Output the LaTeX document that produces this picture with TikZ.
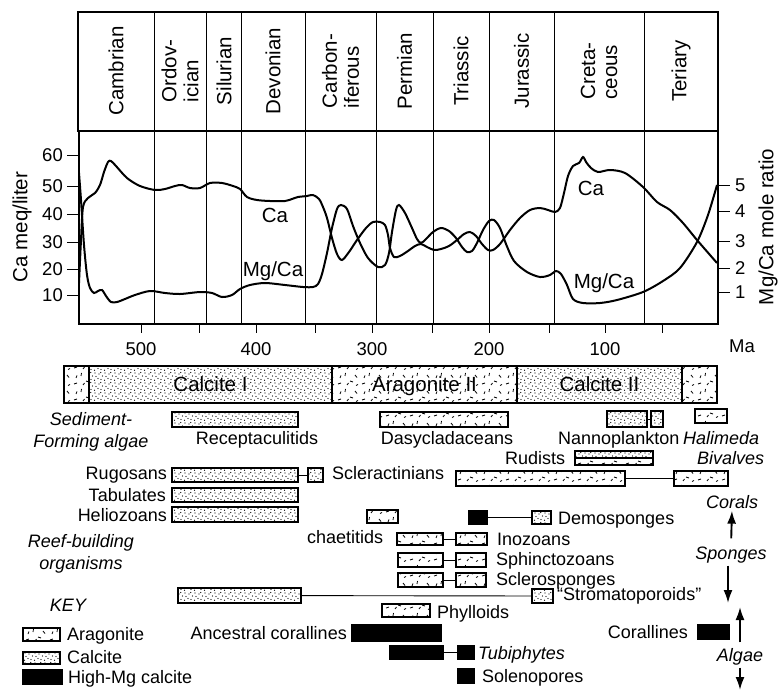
\documentclass[tikz,border=0pt]{standalone}
\usepackage{fontspec}
\setmainfont{Liberation Sans}
\usepackage{tikz}
\usetikzlibrary{patterns,arrows.meta}
\tikzset{>={Latex[length=13pt,width=9pt]}}

\pgfdeclarepatternformonly{calcite}{\pgfqpoint{-1pt}{-1pt}}{\pgfqpoint{11pt}{11pt}}{\pgfqpoint{10pt}{10pt}}{%
  \pgfpathcircle{\pgfqpoint{1pt}{1.5pt}}{0.6pt}%
  \pgfpathcircle{\pgfqpoint{4.5pt}{0.8pt}}{0.6pt}%
  \pgfpathcircle{\pgfqpoint{8pt}{2.5pt}}{0.6pt}%
  \pgfpathcircle{\pgfqpoint{2.5pt}{5pt}}{0.6pt}%
  \pgfpathcircle{\pgfqpoint{6pt}{4.5pt}}{0.6pt}%
  \pgfpathcircle{\pgfqpoint{9pt}{7pt}}{0.6pt}%
  \pgfpathcircle{\pgfqpoint{0.8pt}{8.5pt}}{0.6pt}%
  \pgfpathcircle{\pgfqpoint{5pt}{8pt}}{0.6pt}%
  \pgfusepath{fill}}
\pgfdeclarepatternformonly{aragonite}{\pgfqpoint{-1pt}{-1pt}}{\pgfqpoint{25pt}{17pt}}{\pgfqpoint{24pt}{16pt}}{%
  \pgfsetlinewidth{0.8pt}%
  \pgfpathmoveto{\pgfqpoint{2pt}{3pt}}\pgfpathlineto{\pgfqpoint{5pt}{4pt}}%
  \pgfpathmoveto{\pgfqpoint{9pt}{11pt}}\pgfpathlineto{\pgfqpoint{9.5pt}{14pt}}%
  \pgfpathmoveto{\pgfqpoint{14pt}{6pt}}\pgfpathlineto{\pgfqpoint{17pt}{5pt}}%
  \pgfpathmoveto{\pgfqpoint{19pt}{12pt}}\pgfpathlineto{\pgfqpoint{21pt}{9.5pt}}%
  \pgfpathmoveto{\pgfqpoint{4pt}{9pt}}\pgfpathlineto{\pgfqpoint{5pt}{11.5pt}}%
  \pgfpathmoveto{\pgfqpoint{11pt}{2pt}}\pgfpathlineto{\pgfqpoint{12.5pt}{4pt}}%
  \pgfpathmoveto{\pgfqpoint{20pt}{1.5pt}}\pgfpathlineto{\pgfqpoint{22pt}{2.5pt}}%
  \pgfusepath{stroke}}

\tikzset{
  arafill/.style={draw,line width=1.1pt,pattern=aragonite,inner sep=0pt,outer sep=0pt},
  calfill/.style={draw,line width=1.1pt,pattern=calcite,inner sep=0pt,outer sep=0pt},
  mgfill/.style={draw,line width=1.1pt,fill=black,inner sep=0pt,outer sep=0pt},
  lbl/.style={font=\fontsize{18}{20}\selectfont,inner sep=0pt,text height=12.9pt,text depth=0pt},
  ilbl/.style={lbl,font=\itshape\fontsize{18}{20}\selectfont},
  group/.style={font=\itshape\fontsize{18}{22}\selectfont,inner sep=0pt,align=center},
  period/.style={rotate=90,font=\fontsize{20.5}{22}\selectfont,align=left,inner sep=0pt},
  num/.style={font=\fontsize{18.5}{20}\selectfont,inner sep=0pt,text height=13.3pt,text depth=0pt},
  big/.style={font=\fontsize{20.5}{22}\selectfont,inner sep=0pt,text height=14.7pt,text depth=0pt},
  link/.style={line width=0.9pt},
  curve/.style={line width=2pt,smooth},
  pointer/.style={->,line width=1.9pt}
}
\newcommand{\shellbar}[6]{\node[#1,minimum width={(#5-#3)*1pt},minimum height={(#6-#4)*1pt}] (#2) at ({(#3+#5)/2},{(#4+#6)/2}) {};}

\begin{document}
\begin{tikzpicture}[x=1pt,y=-1pt]
\useasboundingbox (0,0) rectangle (778,691);

\draw[line width=1.6pt] (78,12) rectangle (718,131);
\foreach \x in {154,206,241,305,376,433,489,554,644}
  \draw[line width=0.9pt] (\x,12) -- (\x,324);
\draw[line width=2.2pt] (79,131) rectangle (718,324);

\node[period] (camb) at (116,71) {Cambrian};
\node[period] (ordo) at (180,71) {Ordov-\\ician};
\node[period] (silu) at (224,71) {Silurian};
\node[period] (devo) at (273,71) {Devonian};
\node[period] (carb) at (340.5,71) {Carbon-\\iferous};
\node[period] (perm) at (404.5,71) {Permian};
\node[period] (tria) at (461,71) {Triassic};
\node[period] (jura) at (521.5,71) {Jurassic};
\node[period] (cret) at (599,71) {Creta-\\ceous};
\node[period] (tert) at (681,71) {Teriary};

\foreach \v/\y in {60/155,50/186,40/214,30/242,20/269,10/295} {
  \draw[line width=1pt] (67,\y) -- (79,\y);
  \node[num,anchor=east] (l\v) at (63,\y) {\v};
}
\foreach \v/\y in {5/185,4/211,3/241,2/268,1/292} {
  \draw[line width=1pt] (718,\y) -- (730,\y);
  \node[num,anchor=west] (r\v) at (735,\y) {\v};
}
\foreach \x in {141,199,256,315,372,432,489,549,605,662}
  \draw[line width=1pt] (\x,324) -- (\x,333);
\foreach \v/\x in {500/141,400/256,300/372,200/489,100/605}
  \node[num] (b\v) at (\x,349) {\v};
\node[num] (ma) at (742,346) {Ma};
\node[big,rotate=90] (caaxis) at (20,227) {Ca meq/liter};
\node[big,rotate=90] (mgaxis) at (766,227) {Mg/Ca mole ratio};

\draw[curve] plot coordinates {(79,173) (81,200) (84,245) (87,275) (90,288) (94,293)
  (98,291) (102,290) (106,296) (111,302) (117,302) (125,299) (135,295) (150,291)
  (165,293) (180,294) (200,292) (212,293) (222,297) (232,295) (240,289) (250,285)
  (265,283) (285,285) (303,287) (313,287) (318,284) (322,274) (327,253) (332,228)
  (337,209) (341,205) (347,209) (353,226) (360,243) (368,258) (378,267) (385,265)
  (389,253) (392,232) (396,210) (399,205) (405,213) (412,228) (417,239) (421,243)
  (426,239) (433,232) (441,228) (449,231) (456,238) (462,247) (467,252) (472,251)
  (477,243) (483,230) (489,221) (494,220) (500,228) (506,244) (514,261) (527,272)
  (540,277) (550,275) (556,271) (561,274) (567,285) (573,299) (583,303) (600,303)
  (617,300) (643,292) (663,281) (680,268) (697,242) (708,215) (717,185)};
\draw[curve] plot coordinates {(79,283) (81,240) (83,207) (88,198) (95,193) (100,185)
  (104,172) (108,162) (111,161) (116,166) (127,178) (140,186) (155,190) (165,189)
  (175,186) (182,185) (190,188) (200,188) (210,183) (222,183) (233,186) (240,189)
  (247,197) (257,200) (270,201) (285,201) (292,199) (298,197) (307,196) (313,195)
  (319,199) (323,207) (327,218) (332,238) (337,254) (342,260) (349,252) (357,240)
  (366,228) (373,222) (380,222) (385,225) (388,235) (390,248) (394,257) (400,256)
  (408,251) (415,246) (421,244) (427,247) (434,250) (441,249) (449,246) (457,240)
  (464,234) (470,232) (476,236) (482,244) (488,250) (493,250) (500,244) (510,230)
  (520,218) (530,210) (540,208) (548,210) (555,212) (560,208) (564,193) (568,176)
  (573,166) (579,163) (583,157) (586,162) (591,168) (598,172) (610,170) (625,173)
  (643,187) (657,202) (670,210) (683,223) (697,240) (717,263)};
\node[big] (ca-l) at (275,215) {Ca};
\node[big] (mgca-l) at (273,269) {Mg/Ca};
\node[big] (ca-r) at (591,188) {Ca};
\node[big] (mgca-r) at (604,281) {Mg/Ca};

\shellbar{arafill}{ar1}{64}{366}{89}{403}
\shellbar{calfill}{cal1}{89}{366}{332}{403}
\shellbar{arafill}{ar2}{332}{366}{517}{403}
\shellbar{calfill}{cal2}{517}{366}{682}{403}
\shellbar{arafill}{ar3}{682}{366}{717}{403}
\node[big] (cal1-t) at (cal1) {Calcite I};
\node[big] (ar2-t) at (ar2) {Aragonite II};
\node[big] (cal2-t) at (cal2) {Calcite II};

\node[group] (sedim) at (91,432) {Sediment-\\Forming algae};
\shellbar{calfill}{recep}{172}{412}{298}{427}
\node[lbl] (recep-t) at (257,438) {Receptaculitids};
\shellbar{arafill}{dasy}{380}{412}{508}{427}
\node[lbl] (dasy-t) at (447,438) {Dasycladaceans};
\shellbar{calfill}{nanno1}{607}{411}{647}{427}
\shellbar{calfill}{nanno2}{651}{411}{663}{427}
\draw[link] (nanno1) -- (nanno2);
\node[lbl,anchor=west] (nanno-t) at (558,438) {Nannoplankton};
\shellbar{arafill}{halim}{695}{409}{727}{423}
\node[ilbl,anchor=west] (halim-t) at (683,438) {Halimeda};
\node[lbl,anchor=west] (rud-t) at (505,458) {Rudists};
\shellbar{calfill}{rud1}{575}{451}{653}{458}
\shellbar{arafill}{rud2}{575}{458}{653}{465}
\node[ilbl,anchor=west] (biv-t) at (697,458) {Bivalves};

\node[lbl,anchor=east] (rugo-t) at (167,473) {Rugosans};
\shellbar{calfill}{rugo}{172}{468}{298}{482}
\shellbar{calfill}{rugo-s}{308}{468}{323}{482}
\draw[link] (rugo) -- (rugo-s);
\node[lbl,anchor=west] (scler-t) at (332,473) {Scleractinians};
\shellbar{arafill}{scler1}{456}{471}{625}{486}
\shellbar{arafill}{scler2}{674}{471}{728}{486}
\draw[link] (scler1) -- (scler2);
\node[lbl,anchor=east] (tabu-t) at (166,495) {Tabulates};
\shellbar{calfill}{tabu}{172}{488}{298}{502}
\node[lbl,anchor=east] (helio-t) at (167,515) {Heliozoans};
\shellbar{calfill}{helio}{172}{507}{298}{522}
\node[ilbl] (corals) at (732,502) {Corals};

\node[group] (reef) at (81,554) {Reef-building\\organisms};
\shellbar{arafill}{chaet}{367}{510}{398}{523}
\node[lbl,anchor=west] (chaet-t) at (307,537) {chaetitids};
\shellbar{mgfill}{demo1}{469}{511}{487}{524}
\shellbar{calfill}{demo2}{532}{511}{551}{524}
\draw[link] (demo1) -- (demo2);
\node[lbl,anchor=west] (demo-t) at (558,518) {Demosponges};
\shellbar{arafill}{ino1}{397}{533}{443}{545}
\shellbar{arafill}{ino2}{456}{533}{487}{545}
\draw[link] (ino1) -- (ino2);
\node[lbl,anchor=west] (ino-t) at (497,539) {Inozoans};
\shellbar{arafill}{sphin1}{398}{553}{443}{567}
\shellbar{arafill}{sphin2}{456}{553}{486}{567}
\draw[link] (sphin1) -- (sphin2);
\node[lbl,anchor=west] (sphin-t) at (496,559) {Sphinctozoans};
\shellbar{arafill}{sclsp1}{398}{573}{443}{587}
\shellbar{arafill}{sclsp2}{456}{573}{486}{587}
\draw[link] (sclsp1) -- (sclsp2);
\node[lbl,anchor=west] (sclsp-t) at (496,579) {Sclerosponges};
\shellbar{calfill}{strom1}{178}{588}{301}{603}
\shellbar{calfill}{strom2}{532}{589}{553}{603}
\draw[link] (strom1) -- (strom2);
\node[lbl,anchor=west] (strom-t) at (557,594) {“Stromatoporoids”};
\node[ilbl] (sponges) at (731,553) {Sponges};

\shellbar{arafill}{phyl}{382}{604}{430}{617}
\node[lbl,anchor=west] (phyl-t) at (437,612) {Phylloids};
\shellbar{mgfill}{ances}{352}{625}{441}{641}
\node[lbl,anchor=east] (ances-t) at (347,633) {Ancestral corallines};
\shellbar{mgfill}{tubi1}{390}{646}{443}{659}
\shellbar{mgfill}{tubi2}{458}{646}{474}{659}
\draw[link] (tubi1) -- (tubi2);
\node[ilbl,anchor=west] (tubi-t) at (478,653) {Tubiphytes};
\shellbar{mgfill}{soleno}{458}{669}{474}{683}
\node[lbl,anchor=west] (soleno-t) at (482,676) {Solenopores};
\shellbar{mgfill}{coral}{698}{625}{729}{639}
\node[lbl,anchor=east] (coral-t) at (688,632) {Corallines};
\node[ilbl] (algae) at (740,655) {Algae};

\coordinate (sp-tip) at (728,603);
\coordinate (al-tip) at (740,607);
\coordinate (al-end) at (740,690);
\draw[pointer,shorten <=8pt,shorten >=2pt] (sponges.north) -- (corals.south);
\draw[pointer,shorten <=6pt] (sponges.south -| sp-tip) -- (sp-tip);
\draw[pointer,shorten <=6pt] (algae.north -| al-tip) -- (al-tip);
\draw[pointer,shorten <=6pt] (algae.south -| al-end) -- (al-end);

\node[ilbl] (key) at (68,605) {KEY};
\shellbar{arafill}{key-ara}{23}{628}{60}{641}
\node[lbl,anchor=west] (key-ara-t) at (67,634) {Aragonite};
\shellbar{calfill}{key-cal}{23}{652}{60}{664}
\node[lbl,anchor=west] (key-cal-t) at (67,657) {Calcite};
\shellbar{mgfill}{key-mg}{23}{670}{62}{684}
\node[lbl,anchor=west] (key-mg-t) at (68,677) {High-Mg calcite};
\end{tikzpicture}
\end{document}
